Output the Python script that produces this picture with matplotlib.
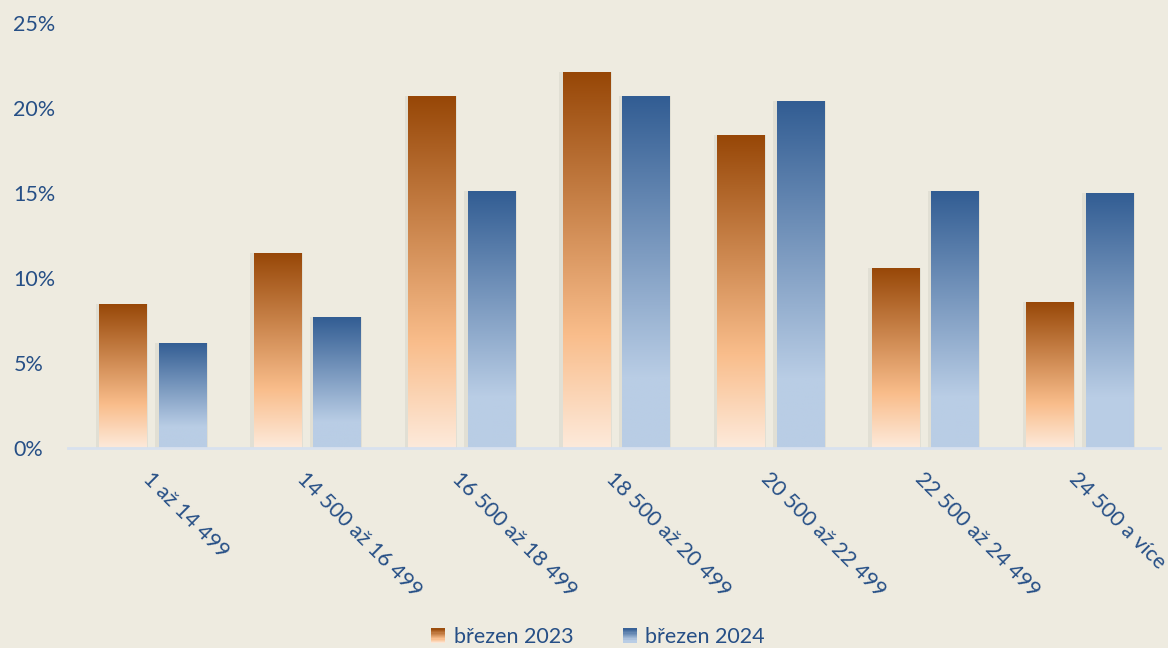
import numpy as np
import matplotlib
matplotlib.use("Agg")
import matplotlib.pyplot as plt
from matplotlib.colors import LinearSegmentedColormap
from matplotlib.patches import Rectangle
from matplotlib.legend_handler import HandlerBase

categories = ["1 až 14 499", "14 500 až 16 499", "16 500 až 18 499",
              "18 500 až 20 499", "20 500 až 22 499", "22 500 až 24 499",
              "24 500 a více"]
brezen_2023 = [8.5, 11.5, 20.7, 22.1, 18.4, 10.6, 8.6]
brezen_2024 = [6.2, 7.7, 15.1, 20.7, 20.4, 15.1, 15.0]
series_names = ["březen 2023", "březen 2024"]

bg = "#EEEBE0"
txt = "#264F86"

cmap_orange = LinearSegmentedColormap.from_list(
    "o", [(0, "#FDEADB"), (0.30, "#F9BD8B"), (1.0, "#974707")])
cmap_blue = LinearSegmentedColormap.from_list(
    "b", [(0, "#B9CDE5"), (0.20, "#B9CDE5"), (1.0, "#325D93")])

plt.rcParams['font.family'] = ['Lato', 'DejaVu Sans']

fig = plt.figure(figsize=(11.68, 6.48), dpi=100, facecolor=bg)
ax = fig.add_axes([0.065, 0.3086, 0.9256, 0.6559])
ax.set_facecolor(bg)

x = np.arange(len(categories))
w = 0.31
off = 0.193
grad = np.linspace(0, 1, 256).reshape(-1, 1)

for vals, dx, cmap in [(brezen_2023, -off, cmap_orange), (brezen_2024, off, cmap_blue)]:
    # faint shadow
    ax.bar(x + dx - 0.008, vals, w + 0.03, color="#000000", alpha=0.05,
           linewidth=0, zorder=1)
    bars = ax.bar(x + dx, vals, w, color="none", linewidth=0, zorder=2)
    for b in bars:
        x0, y0 = b.get_x(), b.get_y()
        im = ax.imshow(grad, cmap=cmap, origin="lower", aspect="auto",
                       extent=[x0, x0 + b.get_width(), y0, y0 + b.get_height()],
                       zorder=2)
        im.set_clip_path(b)

ax.set_xlim(-0.5, len(categories) - 0.5)
ax.set_ylim(0, 25)
ax.set_yticks([0, 5, 10, 15, 20, 25])
ax.set_yticklabels([f"{v}%" for v in [0, 5, 10, 15, 20, 25]])
ax.set_xticks(x)
ax.set_xticklabels(categories, rotation=-45, ha="left", va="top",
                   rotation_mode="anchor")
ax.tick_params(axis="both", length=0, colors=txt, labelsize=15.5)
ax.tick_params(axis="y", pad=45)
for lab in ax.get_yticklabels():
    lab.set_horizontalalignment("left")
ax.tick_params(axis="x", pad=15)
for s in ["top", "right", "left"]:
    ax.spines[s].set_visible(False)
ax.spines["bottom"].set_color("#D8E1EE")
ax.spines["bottom"].set_linewidth(2)
ax.spines["bottom"].set_bounds(-0.55, 6.52)
ax.spines["bottom"].set_zorder(3)


class GradHandler(HandlerBase):
    def __init__(self, cmap):
        super().__init__()
        self.cmap = cmap

    def create_artists(self, legend, orig, xd, yd, width, height, fontsize, trans):
        n = 12
        arts = []
        for i in range(n):
            r = Rectangle((xd, yd + height * i / n), width, height / n + 0.3,
                          facecolor=self.cmap((i + 0.5) / n), edgecolor="none",
                          transform=trans)
            arts.append(r)
        return arts


h1 = Rectangle((0, 0), 1, 1)
h2 = Rectangle((0, 0), 1, 1)
fig.legend([h1, h2], series_names, loc="lower center", ncol=2,
           bbox_to_anchor=(0.512, -0.028), frameon=False, fontsize=15.5,
           labelcolor=txt, handlelength=0.65, handleheight=0.65,
           handletextpad=0.4, columnspacing=2.3,
           handler_map={h1: GradHandler(cmap_orange), h2: GradHandler(cmap_blue)})

fig.savefig("out.png", dpi=100, facecolor=bg)
